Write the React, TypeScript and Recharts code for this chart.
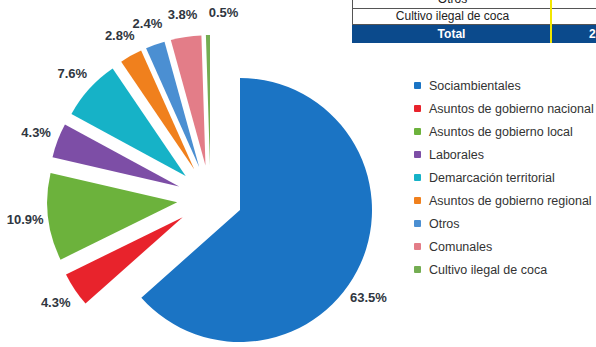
import { PieChart, Pie, Cell, Legend } from "recharts";

const categories = [
  "Sociambientales",
  "Asuntos de gobierno nacional",
  "Asuntos de gobierno local",
  "Laborales",
  "Demarcación territorial",
  "Asuntos de gobierno regional",
  "Otros",
  "Comunales",
  "Cultivo ilegal de coca",
];
const shares = [63.5, 4.3, 10.9, 4.3, 7.6, 2.8, 2.4, 3.8, 0.5];
const colors = [
  "#1b74c4",
  "#e8232c",
  "#6cb23c",
  "#7d4ea6",
  "#16b2c7",
  "#f0801d",
  "#4b8fd2",
  "#e37d88",
  "#74ad52",
];
const tableRows = ["Otros", "Cultivo ilegal de coca"];
const totalLabel = "Total";
const totalValue = "2";

const data = categories.map((name, i) => ({ name, value: shares[i] }));

const RAD = Math.PI / 180;
const CX = 240;
const CY = 210;
const R_MAIN = 132;
const R_SMALL = 130;
// the small slices are pulled out as a group and then each one radially
const GROUP_DX = -29.5;
const GROUP_DY = -11.5;
const EXPLODE = 33.5;
const total = shares.reduce((a, b) => a + b, 0);

function midAngleOf(i: number) {
  const before = shares.slice(0, i).reduce((a, b) => a + b, 0);
  return 90 - (360 * (before + shares[i] / 2)) / total;
}

const labelNudge: Record<number, [number, number]> = {
  0: [-13, 24],
  8: [16, 0],
};

function makeLabel(only: number) {
  return (props: any) => {
    const { cx, cy, midAngle, outerRadius, index } = props;
    if (index !== only) return null;
    const r = outerRadius + 23;
    const [nx, ny] = labelNudge[index] || [0, 0];
    const x = cx + r * Math.cos(-midAngle * RAD) + nx;
    const y = cy + r * Math.sin(-midAngle * RAD) + ny;
    return (
      <text
        x={x}
        y={y}
        textAnchor="middle"
        dominantBaseline="central"
        fill="#2f3640"
        fontSize={13}
        fontWeight="bold"
        fontFamily="'Liberation Sans', Arial, sans-serif"
      >
        {`${shares[index].toFixed(1)}%`}
      </text>
    );
  };
}

function LegendList() {
  return (
    <div style={{ fontFamily: "'Liberation Sans', Arial, sans-serif", fontSize: 12.5, color: "#333" }}>
      {categories.map((c, i) => (
        <div key={c} style={{ display: "flex", alignItems: "center", height: 23, whiteSpace: "nowrap" }}>
          <span
            style={{
              display: "inline-block",
              width: 7,
              height: 7,
              marginRight: 8,
              background: colors[i],
              borderRadius: 1,
            }}
          />
          {c}
        </div>
      ))}
    </div>
  );
}

function TableFragment() {
  const line = "1px solid #555";
  return (
    <div style={{ position: "absolute", left: 352, top: 0, width: 244, height: 43, overflow: "hidden", fontFamily: "'Liberation Sans', Arial, sans-serif", fontSize: 12 }}>
      <div style={{ position: "absolute", left: 0, top: -10, width: 244, height: 18, borderLeft: line, borderBottom: line }}>
        <div style={{ position: "absolute", left: 0, width: 199, top: 2, textAlign: "center", color: "#222" }}>{tableRows[0]}</div>
      </div>
      <div style={{ position: "absolute", left: 0, top: 8, width: 244, height: 16, borderLeft: line, borderBottom: line }}>
        <div style={{ position: "absolute", left: 0, width: 199, top: 1, textAlign: "center", color: "#222" }}>{tableRows[1]}</div>
      </div>
      <div style={{ position: "absolute", left: 0, top: 25, width: 244, height: 18, background: "#0b4a8c", color: "#fff", fontWeight: "bold" }}>
        <div style={{ position: "absolute", left: 0, width: 199, top: 2, textAlign: "center" }}>{totalLabel}</div>
        <div style={{ position: "absolute", left: 237, top: 2 }}>{totalValue}</div>
      </div>
      <div style={{ position: "absolute", left: 198, top: 0, width: 2, height: 43, background: "#f2e600" }} />
    </div>
  );
}

export default function App() {
  return (
    <div style={{ position: "absolute", left: 0, top: 0, width: 596, height: 347, background: "#fff", overflow: "hidden" }}>
      <PieChart width={596} height={347} margin={{ top: 0, right: 0, bottom: 0, left: 0 }}>
        <Pie
          data={data}
          dataKey="value"
          cx={CX}
          cy={CY}
          outerRadius={R_MAIN}
          startAngle={90}
          endAngle={-270}
          isAnimationActive={false}
          labelLine={false}
          label={makeLabel(0)}
        >
          {data.map((d, j) => (
            <Cell key={d.name} fill={j === 0 ? colors[0] : "transparent"} stroke="none" />
          ))}
        </Pie>
        {data.slice(1).map((_, k) => {
          const i = k + 1;
          const mid = midAngleOf(i);
          const cx = CX + GROUP_DX + EXPLODE * Math.cos(-mid * RAD);
          const cy = CY + GROUP_DY + EXPLODE * Math.sin(-mid * RAD);
          return (
            <Pie
              key={categories[i]}
              data={data}
              dataKey="value"
              cx={cx}
              cy={cy}
              outerRadius={R_SMALL}
              startAngle={90}
              endAngle={-270}
              isAnimationActive={false}
              labelLine={false}
              label={makeLabel(i)}
            >
              {data.map((d, j) => (
                <Cell key={d.name} fill={j === i ? colors[i] : "transparent"} stroke="none" />
              ))}
            </Pie>
          );
        })}
        <Legend
          content={() => <LegendList />}
          layout="vertical"
          wrapperStyle={{ left: 414, top: 74, width: 185 }}
        />
      </PieChart>
      <TableFragment />
    </div>
  );
}
